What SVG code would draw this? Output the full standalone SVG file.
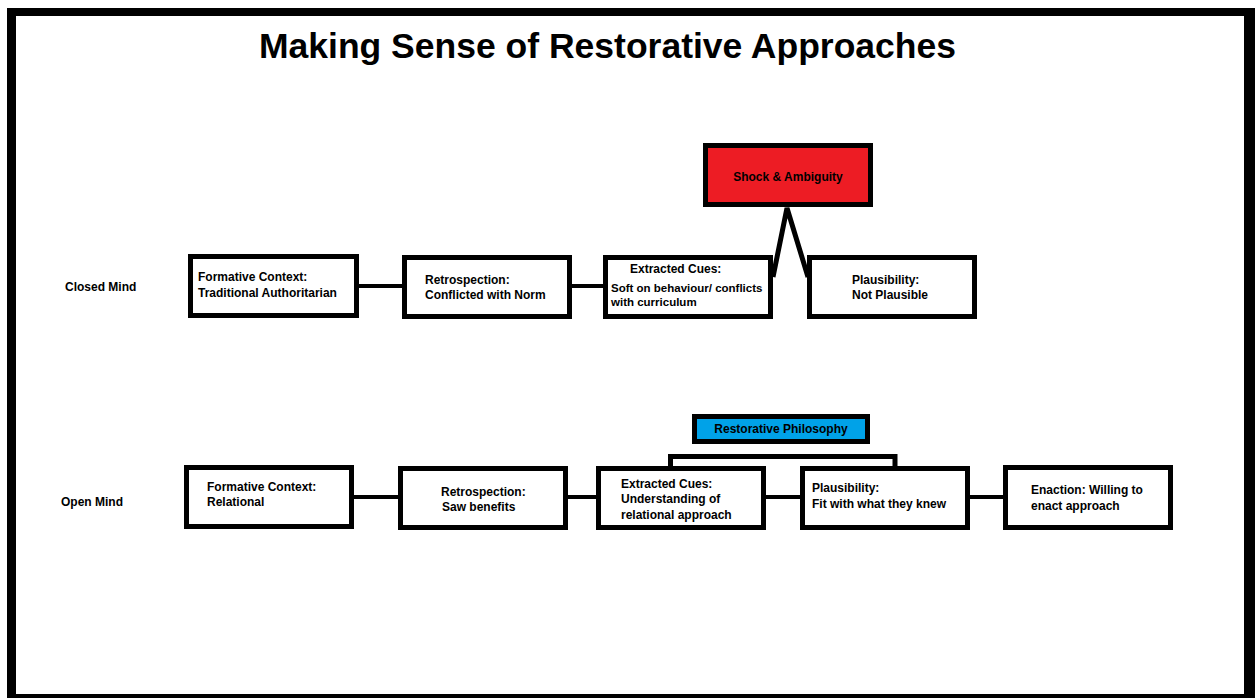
<svg xmlns="http://www.w3.org/2000/svg" width="1257" height="698" viewBox="0 0 1257 698">
<style>
.box{fill:#fff;stroke:#000;stroke-width:5}
.t{font-family:"Liberation Sans",Arial,sans-serif;font-weight:bold;font-size:12px;fill:#000}
.c{stroke:#000;stroke-width:4;fill:none}
.lbl{font-family:"Liberation Sans",Arial,sans-serif;font-weight:bold;font-size:12px;fill:#000}
</style>
<rect x="0" y="0" width="1257" height="698" fill="#fff"/>
<rect x="7" y="8" width="1248" height="690" fill="#000"/>
<rect x="16" y="16" width="1228" height="678" fill="#fff"/>
<text x="607.5" y="58" text-anchor="middle" style="font-family:'Liberation Sans',Arial,sans-serif;font-weight:bold;font-size:35.5px">Making Sense of Restorative Approaches</text>
<text class="lbl" x="65" y="291">Closed Mind</text>
<text class="lbl" x="61" y="506">Open Mind</text>
<g id="connectors">
<line class="c" x1="359" y1="286" x2="402" y2="286"/>
<line class="c" x1="572" y1="286" x2="603" y2="286"/>
<polyline class="c" style="stroke-width:5" points="773,277 787,208 808,277"/>
<line class="c" x1="354" y1="497" x2="398" y2="497"/>
<line class="c" x1="568" y1="497" x2="596" y2="497"/>
<line class="c" x1="766" y1="497" x2="800" y2="497"/>
<line class="c" x1="970" y1="497" x2="1003" y2="497"/>
<polyline class="c" style="stroke-width:5" points="670.5,466 670.5,456.5 895,456.5 895,466"/>
</g>
<g id="closed-formative"><rect class="box" x="190.5" y="256.5" width="166" height="59"/><text class="t" x="198" y="281">Formative Context:</text><text class="t" x="198" y="297">Traditional Authoritarian</text></g>
<g id="closed-retrospection"><rect class="box" x="404.5" y="257.5" width="165" height="59"/><text class="t" x="425" y="284">Retrospection:</text><text class="t" x="425" y="299">Conflicted with Norm</text></g>
<g id="closed-cues"><rect class="box" x="605.5" y="257.5" width="165" height="59"/><text class="t" x="630" y="273">Extracted Cues:</text><text class="t" x="611" y="292" style="font-size:11.5px">Soft on behaviour/ conflicts</text><text class="t" x="611" y="306" style="font-size:11.5px">with curriculum</text></g>
<g id="closed-plausibility"><rect class="box" x="809.5" y="257.5" width="165" height="59"/><text class="t" x="852" y="284">Plausibility:</text><text class="t" x="852" y="299">Not Plausible</text></g>
<g id="shock"><rect class="box" style="fill:#ED1C24" x="705.5" y="145.5" width="165" height="59"/><text class="t" x="788" y="181" text-anchor="middle">Shock &amp; Ambiguity</text></g>
<g id="restorative"><rect class="box" style="fill:#00A2E8" x="694.5" y="416.5" width="173" height="25"/><text class="t" x="781" y="433" text-anchor="middle">Restorative Philosophy</text></g>
<g id="open-formative"><rect class="box" x="186.5" y="467.5" width="165" height="59"/><text class="t" x="207" y="491">Formative Context:</text><text class="t" x="207" y="506">Relational</text></g>
<g id="open-retrospection"><rect class="box" x="400.5" y="468.5" width="165" height="59"/><text class="t" x="441" y="496">Retrospection:</text><text class="t" x="442" y="511">Saw benefits</text></g>
<g id="open-cues"><rect class="box" x="598.5" y="468.5" width="165" height="59"/><text class="t" x="621" y="488">Extracted Cues:</text><text class="t" x="621" y="503">Understanding of</text><text class="t" x="621" y="519">relational approach</text></g>
<g id="open-plausibility"><rect class="box" x="802.5" y="468.5" width="165" height="59"/><text class="t" x="812" y="492">Plausibility:</text><text class="t" x="812" y="508">Fit with what they knew</text></g>
<g id="open-enaction"><rect class="box" x="1005.5" y="467.5" width="165" height="60"/><text class="t" x="1031" y="494">Enaction: Willing to</text><text class="t" x="1031" y="510">enact approach</text></g>
</svg>
